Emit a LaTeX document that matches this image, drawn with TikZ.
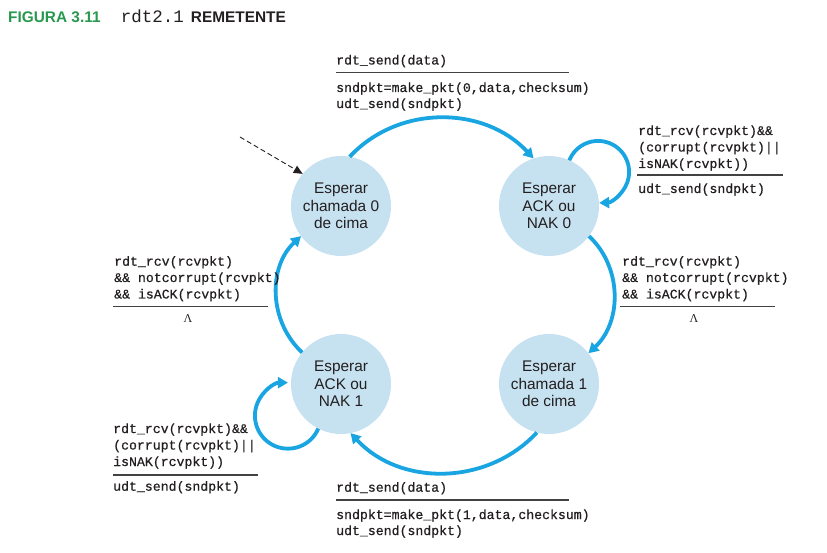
\documentclass[tikz,border=0pt]{standalone}
\usepackage{fontspec}
\setmainfont{Liberation Sans}
\newfontfamily\codefont[FakeBold=0.6]{Liberation Mono}
\newfontfamily\titlecodefont{Liberation Mono}
\newfontfamily\lambdafont{Liberation Serif}
\usetikzlibrary{arrows.meta}
\definecolor{figgreen}{RGB}{40,152,78}
\definecolor{statefill}{RGB}{198,225,240}
\definecolor{flow}{RGB}{25,165,225}
\definecolor{ink}{RGB}{35,31,32}

\begin{document}
\begin{tikzpicture}[x=1pt,y=1pt,
  state/.style={circle, fill=statefill, minimum size=100pt, inner sep=0pt,
    outer sep=0pt, align=center, text=ink,
    font=\fontsize{15.4}{17.5}\selectfont},
  code/.style={anchor=base west, inner sep=0pt, text=ink,
    font=\codefont\fontsize{13.2}{16}\selectfont},
  lambdalabel/.style={inner sep=0pt, text=ink, font=\lambdafont\fontsize{12}{14}\selectfont},
  rulebar/.style={draw=ink!85, line width=1.1pt},
  trans/.style={draw=flow, line width=3.8pt,
    -{Triangle[length=10pt,width=11pt]}},
  initial/.style={draw=ink, line width=0.9pt, dash pattern=on 5pt off 3pt,
    -{Triangle[length=9pt,width=8pt]}},
  heading/.style={anchor=base west, inner sep=0pt,
    font=\bfseries\fontsize{15.4}{18}\selectfont}
]
\useasboundingbox (0,0) rectangle (827,552);

% heading
\node[heading, text=figgreen] (fig) at (8,529.3) {FIGURA 3.11};
\node[anchor=base west, inner sep=0pt, text=ink,
      font=\titlecodefont\fontsize{17.5}{20}\selectfont] (prot) at (120.7,529.3) {rdt2.1};
\node[heading, text=ink] (role) at (190.7,529.3) {REMETENTE};

% states
\node[state] (s0) at (341,346) {Esperar\\chamada 0\\de cima};
\node[state] (s1) at (549,346) {Esperar\\ACK ou\\NAK 0};
\node[state] (s2) at (549,168) {Esperar\\chamada 1\\de cima};
\node[state] (s3) at (341,168) {Esperar\\ACK ou\\NAK 1};

% initial transition
\coordinate (init) at (240,415);
\draw[initial] (init) -- (s0.140);

% transitions
\draw[trans] (s0.80) to[out=47,in=133] (s1.108);
\draw[trans] (s1.-37) to[out=-43,in=43] (s2.38);
\draw[trans] (s2.256) to[out=-133,in=-47] (s3.-79);
\draw[trans] (s3.141) to[out=137,in=-137] (s0.-143);
\draw[trans] (s1.66) arc[start angle=158, end angle=-88, radius=31];
\draw[trans] (s3.243) arc[start angle=-23, end angle=-270, radius=33];

% top label
\node[code] (ta1) at (336,487.5) {rdt\_send(data)};
\draw[rulebar] (336,479.3) -- (569,479.3);
\node[code] (ta2) at (336,460) {sndpkt=make\_pkt(0,data,checksum)};
\node[code] (ta3) at (336,444) {udt\_send(sndpkt)};

% top right label
\node[code] (tb1) at (638,417) {rdt\_rcv(rcvpkt)\&\&};
\node[code] (tb2) at (638,400.5) {(corrupt(rcvpkt)||};
\node[code] (tb3) at (638,384) {isNAK(rcvpkt))};
\draw[rulebar] (637,377) -- (783,377);
\node[code] (tb4) at (638,359) {udt\_send(sndpkt)};

% left label
\node[code] (tc1) at (114,286.3) {rdt\_rcv(rcvpkt)};
\node[code] (tc2) at (114,270) {\&\& notcorrupt(rcvpkt)};
\node[code] (tc3) at (114,253.5) {\&\& isACK(rcvpkt)};
\draw[rulebar] (113,245.3) -- (268,245.3);
\node[lambdalabel] (tc4) at (188,233) {Λ};

% right label
\node[code] (td1) at (622,286.3) {rdt\_rcv(rcvpkt)};
\node[code] (td2) at (622,270) {\&\& notcorrupt(rcvpkt)};
\node[code] (td3) at (622,253.5) {\&\& isACK(rcvpkt)};
\draw[rulebar] (620,245.3) -- (775,245.3);
\node[lambdalabel] (td4) at (694,233) {Λ};

% bottom left label
\node[code] (te1) at (113,119) {rdt\_rcv(rcvpkt)\&\&};
\node[code] (te2) at (113,102.5) {(corrupt(rcvpkt)||};
\node[code] (te3) at (113,86) {isNAK(rcvpkt))};
\draw[rulebar] (113,77) -- (258,77);
\node[code] (te4) at (113,61.3) {udt\_send(sndpkt)};

% bottom label
\node[code] (tf1) at (336,60.3) {rdt\_send(data)};
\draw[rulebar] (336,52) -- (569,52);
\node[code] (tf2) at (336,33) {sndpkt=make\_pkt(1,data,checksum)};
\node[code] (tf3) at (336,17) {udt\_send(sndpkt)};
\end{tikzpicture}
\end{document}
